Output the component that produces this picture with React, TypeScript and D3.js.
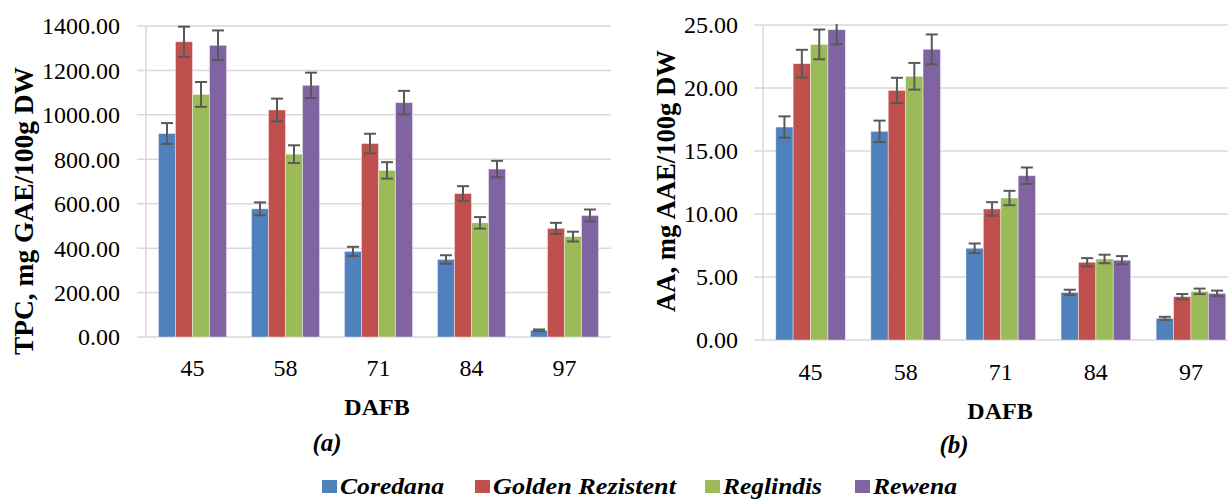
import React from "react";
import * as d3 from "d3";

const categories = ["45", "58", "71", "84", "97"];
const seriesNames = ["Coredana", "Golden Rezistent", "Reglindis", "Rewena"];
const colors = ["#4F81BD", "#C0504D", "#9BBB59", "#8064A2"];

// TPC (a)
const tpcCoredana = [916, 577, 385, 349, 30];
const tpcGolden = [1329, 1022, 871, 646, 489];
const tpcReglindis = [1092, 823, 750, 514, 452];
const tpcRewena = [1313, 1133, 1055, 756, 547];
const tpcErrCoredana = [47, 29, 21, 19, 4];
const tpcErrGolden = [68, 51, 44, 33, 25];
const tpcErrReglindis = [56, 40, 37, 26, 22];
const tpcErrRewena = [67, 57, 53, 37, 27];
const tpcTicks = [0, 200, 400, 600, 800, 1000, 1200, 1400];

// AA (b)
const aaCoredana = [16.9, 16.56, 7.28, 3.78, 1.72];
const aaGolden = [21.93, 19.81, 10.4, 6.17, 3.44];
const aaReglindis = [23.46, 20.93, 11.27, 6.43, 3.86];
const aaRewena = [24.63, 23.07, 13.04, 6.33, 3.7];
const aaErrCoredana = [0.85, 0.85, 0.38, 0.21, 0.12];
const aaErrGolden = [1.1, 1.0, 0.54, 0.33, 0.21];
const aaErrReglindis = [1.18, 1.06, 0.57, 0.34, 0.22];
const aaErrRewena = [1.16, 1.18, 0.65, 0.33, 0.22];
const aaTicks = [0, 5, 10, 15, 20, 25];

const FONT = "'Liberation Serif', 'Times New Roman', serif";

type PanelProps = {
  id: string;
  values: number[][];
  errors: number[][];
  ticks: number[];
  maxY: number;
  x0: number;
  x1: number;
  yTop: number;
  yBottom: number;
  gridEnd: number;
  labelRight: number;
  xLabelY: number;
  title: string;
  titleX: number;
  titleCenterY: number;
  titleLen: number;
  dafbX: number;
  dafbY: number;
  panelLabel: string;
  panelX: number;
  panelY: number;
};

function Panel(p: PanelProps) {
  const y = d3.scaleLinear().domain([0, p.maxY]).range([p.yBottom, p.yTop]);
  const step = (p.x1 - p.x0) / categories.length;
  const groupW = step * 0.732;
  const pad = 1 - groupW / step;
  const xg = d3.scaleBand().domain(categories).range([p.x0, p.x1]).paddingInner(pad).paddingOuter(pad / 2);
  const xs = d3.scaleBand().domain(seriesNames).range([0, xg.bandwidth()]).padding(0);
  const capW = 12;
  const clipId = `clip-${p.id}`;
  return (
    <g>
      <defs>
        <clipPath id={clipId}>
          <rect x={p.x0} y={p.yTop - 1} width={p.gridEnd - p.x0} height={p.yBottom - p.yTop + 2} />
        </clipPath>
      </defs>
      {p.ticks.map((t) => (
        <g key={t}>
          <line x1={p.x0 - 9} x2={p.gridEnd} y1={y(t)} y2={y(t)} stroke="#D9D9D9" strokeWidth={1.5} />
          <text x={p.labelRight} y={y(t)} dy="0.35em" textAnchor="end" fontSize={24} fontFamily={FONT} fill="#000">
            {t.toFixed(2)}
          </text>
        </g>
      ))}
      <line x1={p.x0} x2={p.x0} y1={p.yTop} y2={p.yBottom} stroke="#D9D9D9" strokeWidth={1.5} />
      <g clipPath={`url(#${clipId})`}>
        {seriesNames.map((s, si) => (
          <g key={s}>
            {categories.map((c, ci) => {
              const v = p.values[si][ci];
              const e = p.errors[si][ci];
              const bx = (xg(c) as number) + (xs(s) as number);
              const bw = xs.bandwidth();
              const cx = bx + bw / 2;
              return (
                <g key={c}>
                  <rect x={bx} y={y(v)} width={bw} height={y(0) - y(v)} fill={colors[si]} stroke="#ffffff" strokeOpacity={0.5} strokeWidth={0.8} />
                  <line x1={cx} x2={cx} y1={y(v + e)} y2={y(v - e)} stroke="#595959" strokeWidth={2} />
                  <line x1={cx - capW / 2} x2={cx + capW / 2} y1={y(v + e)} y2={y(v + e)} stroke="#595959" strokeWidth={2} />
                  <line x1={cx - capW / 2} x2={cx + capW / 2} y1={y(v - e)} y2={y(v - e)} stroke="#595959" strokeWidth={2} />
                </g>
              );
            })}
          </g>
        ))}
      </g>
      {categories.map((c) => (
        <text key={c} x={(xg(c) as number) + xg.bandwidth() / 2} y={p.xLabelY} textAnchor="middle" fontSize={24} fontFamily={FONT} fill="#000">
          {c}
        </text>
      ))}
      <text
        transform={`translate(${p.titleX},${p.titleCenterY}) rotate(-90)`}
        textAnchor="middle"
        fontSize={27}
        fontWeight="bold"
        fontFamily={FONT}
        fill="#000"
        textLength={p.titleLen}
        lengthAdjust="spacingAndGlyphs"
      >
        {p.title}
      </text>
      <text x={p.dafbX} y={p.dafbY} textAnchor="middle" fontSize={24} fontWeight="bold" fontFamily={FONT} fill="#000">
        DAFB
      </text>
      <text x={p.panelX} y={p.panelY} textAnchor="middle" fontSize={25} fontWeight="bold" fontStyle="italic" fontFamily={FONT} fill="#000">
        {p.panelLabel}
      </text>
    </g>
  );
}

const legendX = [322, 475, 705, 855];
const legendLen = [104, 183, 99, 84];

export default function App() {
  return (
    <svg width={1228} height={499} style={{ position: "absolute", left: 0, top: 0, background: "#fff" }}>
      <rect x={0} y={0} width={1228} height={499} fill="#fff" />
      <Panel
        id="a"
        values={[tpcCoredana, tpcGolden, tpcReglindis, tpcRewena]}
        errors={[tpcErrCoredana, tpcErrGolden, tpcErrReglindis, tpcErrRewena]}
        ticks={tpcTicks}
        maxY={1400}
        x0={146}
        x1={611}
        yTop={26}
        yBottom={337}
        gridEnd={611}
        labelRight={120}
        xLabelY={376}
        title="TPC, mg GAE/100g DW"
        titleX={33}
        titleCenterY={211}
        titleLen={288}
        dafbX={377}
        dafbY={415}
        panelLabel="(a)"
        panelX={327}
        panelY={451}
      />
      <Panel
        id="b"
        values={[aaCoredana, aaGolden, aaReglindis, aaRewena]}
        errors={[aaErrCoredana, aaErrGolden, aaErrReglindis, aaErrRewena]}
        ticks={aaTicks}
        maxY={25}
        x0={763}
        x1={1238.5}
        yTop={25}
        yBottom={340}
        gridEnd={1228}
        labelRight={738}
        xLabelY={380}
        title="AA, mg AAE/100g DW"
        titleX={675}
        titleCenterY={181}
        titleLen={262}
        dafbX={1000}
        dafbY={419}
        panelLabel="(b)"
        panelX={954}
        panelY={453}
      />
      {seriesNames.map((s, i) => (
        <g key={s}>
          <rect x={legendX[i]} y={480} width={15} height={13} fill={colors[i]} />
          <text
            x={legendX[i] + 18}
            y={494}
            fontSize={24}
            fontWeight="bold"
            fontStyle="italic"
            fontFamily={FONT}
            fill="#000"
            textLength={legendLen[i]}
            lengthAdjust="spacingAndGlyphs"
          >
            {s}
          </text>
        </g>
      ))}
    </svg>
  );
}
